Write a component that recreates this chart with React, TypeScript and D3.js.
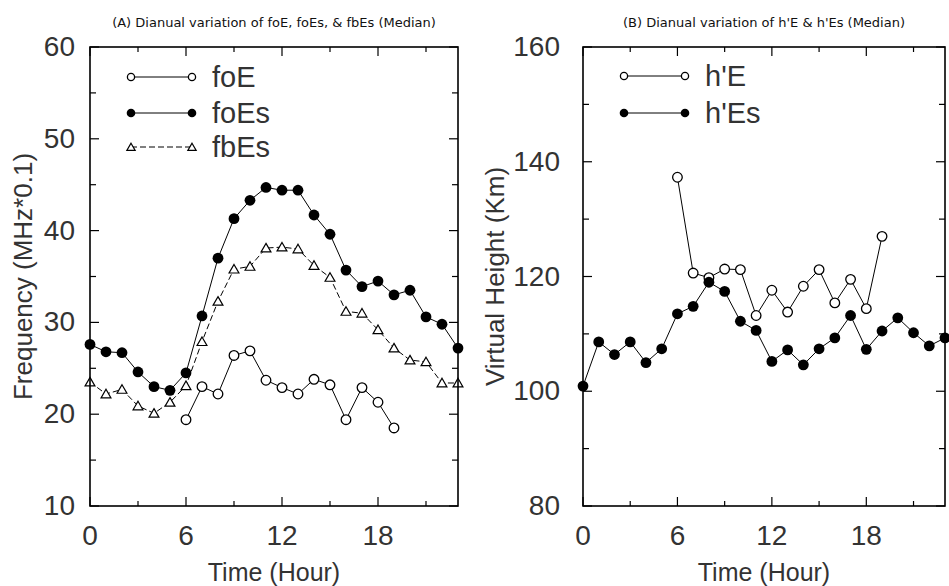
import React from "react";
import * as d3 from "d3";

const HOURS = [0, 1, 2, 3, 4, 5, 6, 7, 8, 9, 10, 11, 12, 13, 14, 15, 16, 17, 18, 19, 20, 21, 22, 23];
const DAY_HOURS = [6, 7, 8, 9, 10, 11, 12, 13, 14, 15, 16, 17, 18, 19];

const FOE = [19.4, 23.0, 22.2, 26.4, 26.9, 23.7, 22.9, 22.2, 23.8, 23.2, 19.4, 22.9, 21.3, 18.5];
const FOES = [27.6, 26.8, 26.7, 24.6, 23.0, 22.6, 24.5, 30.7, 37.0, 41.3, 43.3, 44.7, 44.4, 44.4, 41.7, 39.6, 35.7, 33.9, 34.5, 33.0, 33.5, 30.6, 29.8, 27.2];
const FBES = [23.5, 22.2, 22.7, 20.9, 20.1, 21.3, 23.1, 27.9, 32.3, 35.8, 36.1, 38.1, 38.2, 38.0, 36.2, 34.9, 31.2, 31.0, 29.2, 27.2, 25.9, 25.7, 23.4, 23.4];

const HE = [137.3, 120.6, 119.8, 121.3, 121.2, 113.2, 117.6, 113.8, 118.3, 121.2, 115.4, 119.5, 114.4, 127.0];
const HES = [100.9, 108.6, 106.4, 108.6, 105.0, 107.4, 113.5, 114.8, 119.0, 117.4, 112.2, 110.6, 105.2, 107.2, 104.6, 107.4, 109.3, 113.2, 107.3, 110.5, 112.8, 110.2, 107.9, 109.3];

const X_TICKS = [0, 6, 12, 18];
const X_MINOR = [3, 9, 15, 21];
const A_TICKS = [10, 20, 30, 40, 50, 60];
const A_MINOR = [15, 25, 35, 45, 55];
const B_TICKS = [80, 100, 120, 140, 160];
const B_MINOR = [90, 110, 130, 150];

const FONT = "'Liberation Sans', Arial, sans-serif";
const TITLE_FONT = "'DejaVu Sans', sans-serif";

type Series = { name: string; xs: number[]; ys: number[]; marker: "open" | "filled" | "tri"; dash?: string };

function Marker({ kind, x, y, small }: { kind: string; x: number; y: number; small?: boolean }) {
  if (kind === "open") {
    return <circle cx={x} cy={y} r={small ? 3.6 : 4.8} fill="#fff" stroke="#000" strokeWidth={1.3} />;
  }
  if (kind === "filled") {
    return <circle cx={x} cy={y} r={small ? 4.3 : 5.4} fill="#000" />;
  }
  const p = d3.symbol(d3.symbolTriangle, small ? 30 : 42)() as string;
  return <path d={p} transform={`translate(${x},${y + 1})`} fill="#fff" stroke="#000" strokeWidth={1.2} />;
}

function Panel(props: {
  left: number; right: number; top: number; bottom: number;
  yDomain: [number, number]; yTicks: number[]; yMinor: number[];
  series: Series[]; title: string; yLabel: string; yLabelX: number; tickGap: number;
  legendX: number; legendTextX: number; legendY: number[];
}) {
  const { left, right, top, bottom } = props;
  const x = d3.scaleLinear().domain([0, 23]).range([left, right]);
  const y = d3.scaleLinear().domain(props.yDomain).range([bottom, top]);
  const line = d3.line<[number, number]>().x((d) => x(d[0])).y((d) => y(d[1]));
  const cx = (left + right) / 2;
  const cy = (top + bottom) / 2;
  return (
    <g>
      <text x={cx} y={27} textAnchor="middle" fontFamily={TITLE_FONT} fontSize={13} fill="#111">{props.title}</text>
      {props.series.map((s) => (
        <path key={s.name + "l"} d={line(s.xs.map((h, i) => [h, s.ys[i]]) as [number, number][]) as string}
          fill="none" stroke="#000" strokeWidth={1} strokeDasharray={s.dash} />
      ))}
      {props.series.map((s) =>
        s.xs.map((h, i) => <Marker key={s.name + i} kind={s.marker} x={x(h)} y={y(s.ys[i])} />)
      )}
      <rect x={left} y={top} width={right - left} height={bottom - top} fill="none" stroke="#000" strokeWidth={1.6} />
      {X_TICKS.map((t) => (
        <g key={"xt" + t}>
          <line x1={x(t)} x2={x(t)} y1={bottom} y2={bottom - 9} stroke="#000" strokeWidth={1.2} />
          <line x1={x(t)} x2={x(t)} y1={top} y2={top + 9} stroke="#000" strokeWidth={1.2} />
          <text x={x(t)} y={bottom + 39} textAnchor="middle" fontFamily={FONT} fontSize={28} fill="#333">{t}</text>
        </g>
      ))}
      {X_MINOR.map((t) => (
        <g key={"xm" + t}>
          <line x1={x(t)} x2={x(t)} y1={bottom} y2={bottom - 5} stroke="#000" strokeWidth={1.2} />
          <line x1={x(t)} x2={x(t)} y1={top} y2={top + 5} stroke="#000" strokeWidth={1.2} />
        </g>
      ))}
      {props.yTicks.map((t) => (
        <g key={"yt" + t}>
          <line x1={left} x2={left + 9} y1={y(t)} y2={y(t)} stroke="#000" strokeWidth={1.2} />
          <line x1={right} x2={right - 9} y1={y(t)} y2={y(t)} stroke="#000" strokeWidth={1.2} />
          <text x={left - props.tickGap} y={y(t) + 9} textAnchor="end" fontFamily={FONT} fontSize={28} fill="#333">{t}</text>
        </g>
      ))}
      {props.yMinor.map((t) => (
        <g key={"ym" + t}>
          <line x1={left} x2={left + 6} y1={y(t)} y2={y(t)} stroke="#000" strokeWidth={1.2} />
          <line x1={right} x2={right - 6} y1={y(t)} y2={y(t)} stroke="#000" strokeWidth={1.2} />
        </g>
      ))}
      <text x={cx} y={bottom + 75} textAnchor="middle" fontFamily={FONT} fontSize={25} fill="#333">Time (Hour)</text>
      <text transform={`translate(${props.yLabelX},${cy}) rotate(-90)`} textAnchor="middle" dominantBaseline="central"
        fontFamily={FONT} fontSize={26} fill="#333">{props.yLabel}</text>
      {props.series.map((s, i) => {
        const ly = props.legendY[i];
        const x1 = props.legendX;
        const x2 = props.legendTextX - 20;
        return (
          <g key={"lg" + s.name}>
            <line x1={x1} x2={x2} y1={ly} y2={ly} stroke="#000" strokeWidth={1} strokeDasharray={s.dash} />
            <Marker kind={s.marker} x={x1} y={ly} small />
            <Marker kind={s.marker} x={x2} y={ly} small />
            <text x={props.legendTextX} y={ly + 10} fontFamily={FONT} fontSize={29} fill="#333">{s.name}</text>
          </g>
        );
      })}
    </g>
  );
}

export default function App() {
  const seriesA: Series[] = [
    { name: "foE", xs: DAY_HOURS, ys: FOE, marker: "open" },
    { name: "foEs", xs: HOURS, ys: FOES, marker: "filled" },
    { name: "fbEs", xs: HOURS, ys: FBES, marker: "tri", dash: "6,3" },
  ];
  const seriesB: Series[] = [
    { name: "h'E", xs: DAY_HOURS, ys: HE, marker: "open" },
    { name: "h'Es", xs: HOURS, ys: HES, marker: "filled" },
  ];
  return (
    <svg width={949} height={586} style={{ position: "absolute", left: 0, top: 0, background: "#fff" }}>
      <rect width={949} height={586} fill="#fff" />
      <Panel left={90} right={458} top={47} bottom={506} yDomain={[10, 60]} yTicks={A_TICKS} yMinor={A_MINOR}
        series={seriesA} title="(A) Dianual variation of foE, foEs, & fbEs (Median)"
        yLabel="Frequency (MHz*0.1)" yLabelX={23} tickGap={15}
        legendX={131} legendTextX={212} legendY={[77, 113, 147]} />
      <Panel left={583} right={945} top={47} bottom={506} yDomain={[80, 160]} yTicks={B_TICKS} yMinor={B_MINOR}
        series={seriesB} title="(B) Dianual variation of h'E & h'Es (Median)"
        yLabel="Virtual Height (Km)" yLabelX={495} tickGap={23}
        legendX={624} legendTextX={705} legendY={[76, 113]} />
    </svg>
  );
}
